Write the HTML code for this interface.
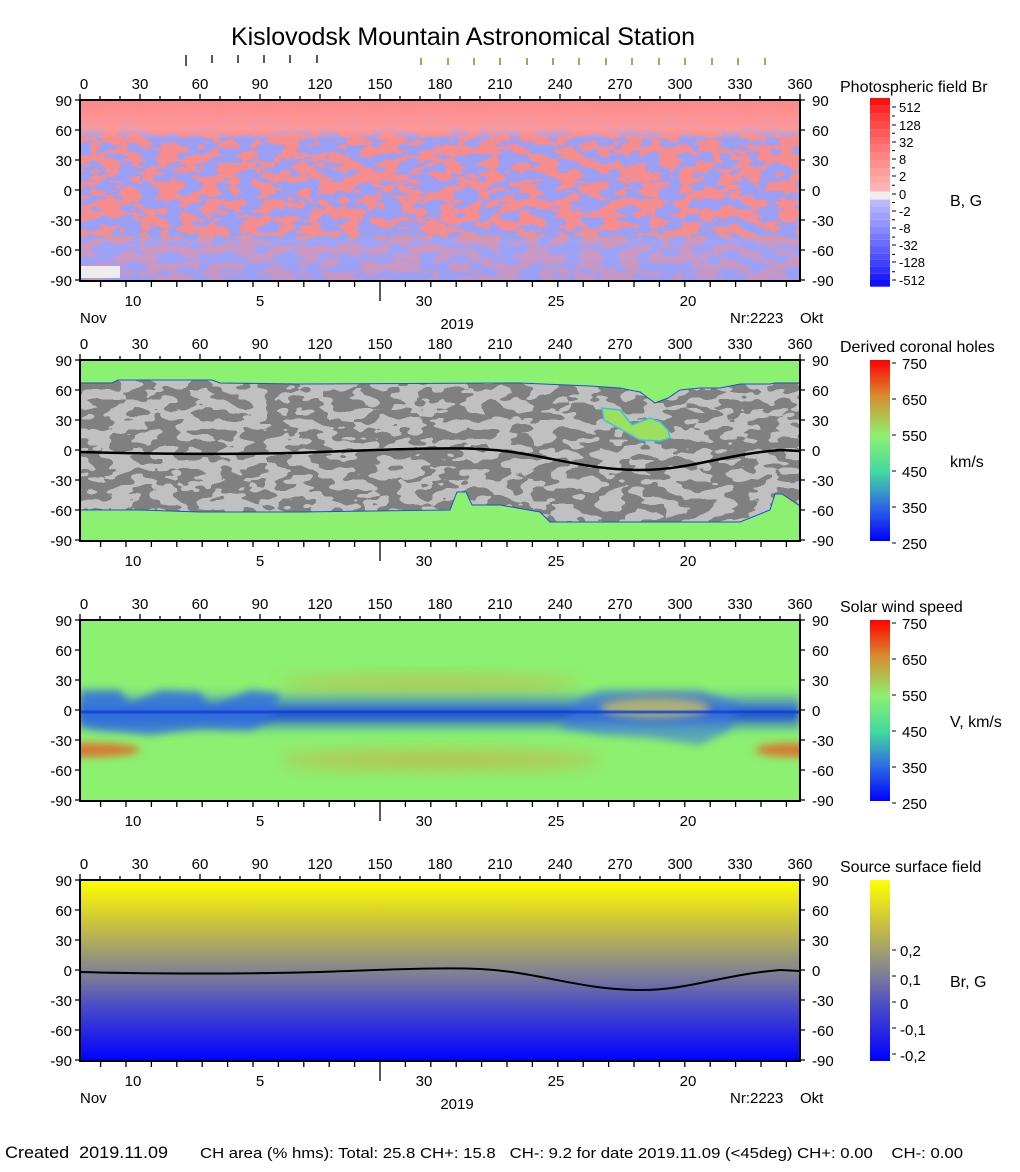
<!DOCTYPE html>
<html><head><meta charset="utf-8"><style>
html,body{margin:0;padding:0;background:#fff;}
svg{display:block;font-family:"Liberation Sans",Arial,sans-serif;}
</style></head><body>
<svg id="s" width="1020" height="1172" viewBox="0 0 1020 1172" xmlns="http://www.w3.org/2000/svg">
<defs>
<filter id="nz" x="0" y="0" width="1" height="1" filterUnits="objectBoundingBox" color-interpolation-filters="sRGB">
<feTurbulence type="fractalNoise" baseFrequency="0.05 0.11" numOctaves="3" seed="5"/>
<feColorMatrix type="matrix" values="0 0 0 0 0.97  0 0 0 0 0.55  0 0 0 0 0.55  1.6 0 0 0 -0.3"/>
<feComponentTransfer><feFuncA type="discrete" tableValues="0 0 1 1"/></feComponentTransfer>
</filter>
<filter id="nz2" x="0" y="0" width="1" height="1" filterUnits="objectBoundingBox" color-interpolation-filters="sRGB">
<feTurbulence type="fractalNoise" baseFrequency="0.045 0.1" numOctaves="2" seed="9"/>
<feColorMatrix type="matrix" values="0 0 0 0 0.5  0 0 0 0 0.5  0 0 0 0 0.5  1.6 0 0 0 -0.3"/>
<feComponentTransfer><feFuncA type="discrete" tableValues="0 0 1 1"/></feComponentTransfer>
</filter>
<filter id="bl" x="-50%" y="-50%" width="200%" height="200%"><feGaussianBlur stdDeviation="8"/></filter>
<filter id="bl2" x="-50%" y="-50%" width="200%" height="200%"><feGaussianBlur stdDeviation="4"/></filter>
<linearGradient id="topP" x1="0" y1="0" x2="0" y2="1"><stop offset="0" stop-color="#f88" stop-opacity="1"/><stop offset="0.7" stop-color="#f99" stop-opacity="0.9"/><stop offset="1" stop-color="#f99" stop-opacity="0"/></linearGradient>
<linearGradient id="botB" x1="0" y1="0" x2="0" y2="1"><stop offset="0" stop-color="#99f" stop-opacity="0"/><stop offset="0.4" stop-color="#9ab" stop-opacity="0.0"/><stop offset="0.5" stop-color="#a0a6f8" stop-opacity="0.8"/><stop offset="1" stop-color="#9aa0f5" stop-opacity="0.9"/></linearGradient>
<linearGradient id="band" x1="0" y1="0" x2="0" y2="1"><stop offset="0" stop-color="#3070e0" stop-opacity="0"/><stop offset="0.45" stop-color="#2a5ae0" stop-opacity="0.9"/><stop offset="0.55" stop-color="#1040d8" stop-opacity="1"/><stop offset="1" stop-color="#3070e0" stop-opacity="0"/></linearGradient>
<linearGradient id="ss" x1="0" y1="0" x2="0" y2="1"><stop offset="0" stop-color="#ffff00"/><stop offset="0.25" stop-color="#c8c040"/><stop offset="0.48" stop-color="#8a8a8a"/><stop offset="0.7" stop-color="#4a4ac8"/><stop offset="1" stop-color="#0000ff"/></linearGradient>
<linearGradient id="jet" x1="0" y1="0" x2="0" y2="1"><stop offset="0" stop-color="#ff0000"/><stop offset="0.2" stop-color="#d88c30"/><stop offset="0.42" stop-color="#8cf070"/><stop offset="0.62" stop-color="#40d8a0"/><stop offset="0.8" stop-color="#3070e0"/><stop offset="1" stop-color="#0000ff"/></linearGradient>
<clipPath id="c3"><rect x="80" y="620" width="720" height="181"/></clipPath>
</defs>
<text x="463" y="45" font-size="25" text-anchor="middle">Kislovodsk Mountain Astronomical Station</text>

<!-- Panel 1 -->
<rect x="80" y="100" width="720" height="181" fill="#9aa0f6"/>
<rect x="80" y="100" width="720" height="181" filter="url(#nz)"/>
<rect x="80" y="100" width="720" height="40" fill="url(#topP)"/>
<rect x="80" y="200" width="720" height="81" fill="url(#botB)" opacity="0.6"/>
<rect x="80" y="266" width="40" height="12" fill="#eee"/>

<!-- Panel 2 -->
<rect x="80" y="360" width="720" height="181" fill="#c0c0c0"/>
<rect x="80" y="360" width="720" height="181" filter="url(#nz2)"/>
<path d="M80,360 H800 V383 H775 L770,384 H740 L720,388 L700,388 L680,390 L668,398 L655,403 L640,392 L620,388 L590,386 L520,383 L300,384 L220,383 L212,380 L118,380 L112,383 H80 Z" fill="#8cf070" stroke="#2050d0" stroke-width="1"/>
<path d="M602,408 L620,410 L632,425 L650,418 L660,422 L668,430 L670,438 L660,441 L640,440 L622,430 L604,420 Z" fill="#9ce060" stroke="#40c0e0" stroke-width="1.5"/>
<path d="M80,541 V510 H140 L200,512 H300 L450,510 L457,492 L466,492 L472,505 L500,505 L540,512 L550,522 H740 L770,510 L775,494 L782,494 L800,506 V541 Z" fill="#8cf070" stroke="#2050d0" stroke-width="1"/>
<path d="M80,452 C150,454 250,455 320,452 C380,450 440,447 480,449 C540,452 580,470 640,470 C690,470 720,455 780,450 L800,451" fill="none" stroke="#000" stroke-width="2.5"/>

<!-- Panel 3 -->
<rect x="80" y="620" width="720" height="181" fill="#8cf070"/>
<g clip-path="url(#c3)">
<ellipse cx="90" cy="750" rx="50" ry="7" fill="#d87830" filter="url(#bl2)"/>
<ellipse cx="795" cy="750" rx="40" ry="7" fill="#d87830" filter="url(#bl2)"/>
<ellipse cx="440" cy="760" rx="160" ry="10" fill="#c8b048" filter="url(#bl)" opacity="0.7"/>
<ellipse cx="430" cy="684" rx="150" ry="9" fill="#c8b048" filter="url(#bl)" opacity="0.6"/>
<ellipse cx="660" cy="705" rx="60" ry="10" fill="#d09050" filter="url(#bl2)" opacity="0.8"/>
<rect x="80" y="690" width="720" height="44" fill="url(#band)" filter="url(#bl2)"/>
<path d="M80,690 L120,690 L130,705 L160,690 L200,692 L210,708 L250,690 L280,694 L270,720 L250,730 L200,728 L150,735 L100,730 L80,725 Z" fill="#3070e0" filter="url(#bl2)" opacity="0.8"/>
<path d="M580,700 L600,690 L700,690 L740,705 L730,730 L700,745 L650,738 L600,735 L560,728 Z" fill="#3a78e0" filter="url(#bl2)" opacity="0.6"/>
<ellipse cx="655" cy="708" rx="55" ry="10" fill="#c8c060" filter="url(#bl2)" opacity="0.8"/>
<path d="M80,712 H800" stroke="#1040d0" stroke-width="3" opacity="0.8"/>
</g>

<!-- Panel 4 -->
<rect x="80" y="880" width="720" height="181" fill="url(#ss)"/>
<path d="M80,972 C150,974 250,974 320,972 C380,970 440,967 480,969 C540,972 580,990 640,990 C690,990 720,975 780,970 L800,971" fill="none" stroke="#000" stroke-width="2"/>

<g id="axes" fill="none" stroke="#000"></g>
<g id="labels" font-size="15" fill="#000"></g>

<g id="cb1"></g>
<rect x="870" y="360" width="20" height="181" fill="url(#jet)"/>
<rect x="870" y="620" width="20" height="181" fill="url(#jet)"/>
<rect x="870" y="880" width="20" height="181" fill="url(#ss)"/>

<g font-size="16">
<text x="840" y="92">Photospheric field Br</text>
<text x="840" y="352">Derived coronal holes</text>
<text x="840" y="612">Solar wind speed</text>
<text x="840" y="872">Source surface field</text>
<text x="950" y="206">B, G</text>
<text x="950" y="467">km/s</text>
<text x="950" y="727">V, km/s</text>
<text x="950" y="987">Br, G</text>
</g>
<g font-size="15">
<text x="902" y="369">750</text><text x="902" y="405">650</text><text x="902" y="441">550</text><text x="902" y="477">450</text><text x="902" y="513">350</text><text x="902" y="549">250</text>
<text x="902" y="629">750</text><text x="902" y="665">650</text><text x="902" y="701">550</text><text x="902" y="737">450</text><text x="902" y="773">350</text><text x="902" y="809">250</text>
<text x="900" y="956">0,2</text><text x="900" y="985">0,1</text><text x="900" y="1009">0</text><text x="900" y="1035">-0,1</text><text x="900" y="1061">-0,2</text>
</g>
<g stroke="#000">
<path d="M892,363h4M892,399h4M892,435h4M892,471h4M892,507h4M892,543h4M892,623h4M892,659h4M892,695h4M892,731h4M892,767h4M892,803h4M892,950h4M892,976h4M892,1002h4M892,1028h4M892,1054h4"/>
</g>

<text x="5" y="1158" font-size="17" textLength="163" lengthAdjust="spacingAndGlyphs" xml:space="preserve">Created  2019.11.09</text>
<text x="200" y="1158" font-size="15" textLength="763" lengthAdjust="spacingAndGlyphs" xml:space="preserve">CH area (% hms): Total: 25.8 CH+: 15.8   CH-: 9.2 for date 2019.11.09 (&lt;45deg) CH+: 0.00    CH-: 0.00</text>
</svg>
<script>
(function(){
var NS="http://www.w3.org/2000/svg";
var ax=document.getElementById('axes'),lb=document.getElementById('labels'),cb=document.getElementById('cb1');
function el(p,t,a,txt){var e=document.createElementNS(NS,t);for(var k in a)e.setAttribute(k,a[k]);if(txt!=null)e.textContent=txt;p.appendChild(e);return e;}
var d="";
[100,360,620,880].forEach(function(T,pi){
 var B=T+181;
 el(ax,'rect',{x:80,y:T,width:720,height:181,'stroke-width':2});
 for(var l=0;l<=360;l+=10){var x=80+l*2;var len=(l%30==0)?6:4;d+="M"+x+","+T+"v-"+len;
  if(l%30==0)el(lb,'text',{x:x+(l==0?4:0),y:T-11,'text-anchor':'middle'},String(l));}
 for(var a=90;a>=-90;a-=30){var y=T+(90-a);
  d+="M80,"+y+"h-5M800,"+y+"h5";
  el(lb,'text',{x:72,y:y+6,'text-anchor':'end'},String(a));
  el(lb,'text',{x:812,y:y+6},String(a));}
 for(var i=-12;i<=16;i++){var x=380+i*25.4; if(x<80||x>800)continue;
  d+="M"+x+","+B+"v"+(i==0?20:6);}
 var dl=[[133,"10"],[260,"5"],[424,"30"],[556,"25"],[688,"20"]];
 dl.forEach(function(v){el(lb,'text',{x:v[0],y:B+25,'text-anchor':'middle'},v[1]);});
 if(pi==0||pi==3){el(lb,'text',{x:80,y:B+42},"Nov");el(lb,'text',{x:457,y:B+48,'text-anchor':'middle'},"2019");
  el(lb,'text',{x:730,y:B+42},"Nr:2223");el(lb,'text',{x:800,y:B+42},"Okt");}
});
var bk=[186,212,238,264,290,317],ol=[421,448,474,500,527,553,579,606,632,659,685,712,738,765];
bk.forEach(function(x,i){d+="M"+x+",55v"+(i==0?11:8);});
el(ax,'path',{d:d,'stroke-width':1.3});
var od="";ol.forEach(function(x){od+="M"+x+",58v7";});
el(ax,'path',{d:od,stroke:"#8a8a20",'stroke-width':1.5});
var reds=["#ff1010","#ff2828","#ff3a3a","#ff4a4a","#ff5a5a","#ff6868","#ff7676","#ff8484","#ff9090","#ff9c9c","#ffa8a8","#ffb4b4"];
var blues=["#b8b8ff","#acacff","#a0a0ff","#9494ff","#8888ff","#7a7aff","#6c6cff","#5e5eff","#5050ff","#4040ff","#3030ff","#1e1eff","#1010ff"];
var y=98;reds.forEach(function(c){el(cb,'rect',{x:870,y:y,width:20,height:7.8,fill:c});y+=7.8;});
el(cb,'rect',{x:870,y:y,width:20,height:8,fill:"#eee"});y+=8;
blues.forEach(function(c){el(cb,'rect',{x:870,y:y,width:20,height:6.7,fill:c});y+=6.7;});
var cl=[[107,"512"],[125,"128"],[142,"32"],[159,"8"],[176,"2"],[194,"0"],[211,"-2"],[228,"-8"],[245,"-32"],[262,"-128"],[280,"-512"]];
var cd="";cl.forEach(function(v){el(cb,'text',{x:899,y:v[0]+5,'font-size':13},v[1]);cd+="M892,"+v[0]+"h4";});
for(var yy=116;yy<280;yy+=17.3)cd+="M892,"+yy.toFixed(1)+"h3";
el(cb,'path',{d:cd,stroke:"#000"});
})();
</script>
</body></html>
